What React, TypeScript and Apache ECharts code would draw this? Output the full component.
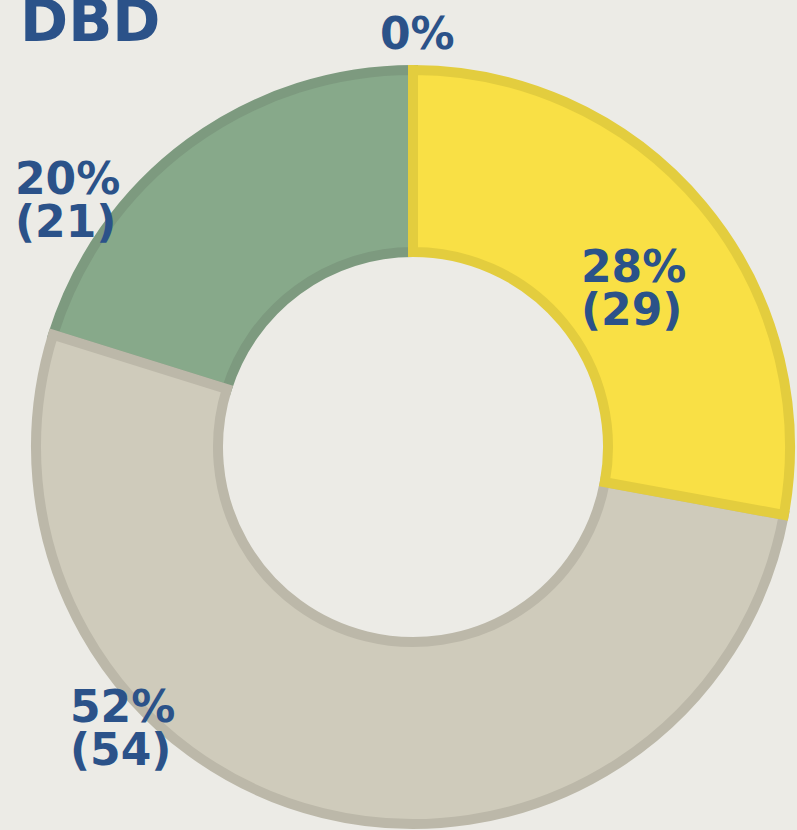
import React, { useEffect, useRef } from "react";
import * as echarts from "echarts";

const titleText = "DBD";
// drawn counter-clockwise from the top, so that yellow is drawn last
const categories = ["Zero", "Green", "Grey", "Yellow"];
const values = [0, 21, 54, 29];
const fillColors = ["#CFCBBB", "#87A98A", "#CFCBBB", "#F9E045"];
const borderColors = ["#BCB8A9", "#7D9A7F", "#BCB8A9", "#E3CD3E"];
// label anchor (top-left) positions
const labelPos = [
  [380, 12],
  [15, 157],
  [70, 685],
  [581, 245],
];

export default function App() {
  const ref = useRef<HTMLDivElement>(null);
  useEffect(() => {
    document.body.style.margin = "0";
    const chart = echarts.init(ref.current!, null, { renderer: "svg" });
    const data = values.map((v, i) => ({
      name: categories[i],
      value: v,
      itemStyle: {
        color: fillColors[i],
        borderColor: borderColors[i],
        borderWidth: v === 0 ? 0 : 10,
      },
    }));
    chart.setOption({
      animation: false,
      backgroundColor: "#ECEBE6",
      title: {
        text: titleText,
        left: 15,
        top: -13,
        textStyle: {
          fontFamily: "DejaVu Sans",
          fontWeight: "bold",
          fontSize: 58,
          color: "#2B5289",
        },
      },
      series: [
        {
          type: "pie",
          center: [413, 447],
          radius: [195, 377],
          startAngle: 90,
          clockwise: false,
          minShowLabelAngle: 0,
          avoidLabelOverlap: false,
          data,
          itemStyle: { borderJoin: "miter" },
          label: {
            show: true,
            position: "inside",
            fontFamily: "DejaVu Sans",
            fontWeight: "bold",
            fontSize: 44,
            lineHeight: 43,
            color: "#2B5289",
            formatter: (p: any) =>
              p.value === 0
                ? `${Math.round(p.percent)}%`
                : `${Math.round(p.percent)}%\n(${p.value})`,
          },
          labelLine: { show: false },
          labelLayout: (p: any) => ({
            x: labelPos[p.dataIndex][0],
            y: labelPos[p.dataIndex][1],
            align: "left",
            verticalAlign: "top",
          }),
          emphasis: { disabled: true },
        },
      ],
    });
    return () => chart.dispose();
  }, []);
  return (
    <div
      ref={ref}
      style={{ position: "absolute", left: 0, top: 0, width: 797, height: 830 }}
    />
  );
}
